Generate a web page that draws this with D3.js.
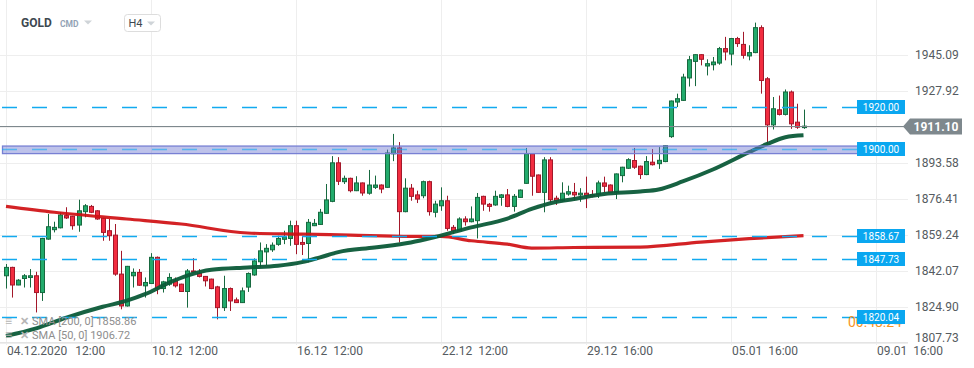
<!DOCTYPE html>
<html>
<head>
<meta charset="utf-8">
<script src="https://cdn.jsdelivr.net/npm/d3@7"></script>
<style>
  body { margin: 0; background: #fff; }
  svg { display: block; font-family: Roboto, "Open Sans", sans-serif; }
</style>
</head>
<body>
<svg id="chart" width="974" height="368"></svg>
<script>
// GOLD H4 candles, 04.12.2020 12:00 onwards (one entry per 4h bar)
const openP = [
  1839.7,1843.7,1835.3,1838.4,1838.9,1839.7,1831.7,1857.2,1861.7,1862.6,
  1868.4,1868.1,1863.9,1870.3,1872.8,1870.7,1867.1,1861.2,1859.1,1840.5,
  1825.3,1839.7,1841.3,1834.9,1836.0,1848.5,1833.6,1835.7,1837.3,1835.7,
  1832.2,1842.0,1840.9,1839.4,1838.1,1834.4,1824.5,1833.6,1828.2,1826.9,
  1834.3,1840.1,1846.4,1851.1,1852.1,1854.7,1857.1,1857.5,1863.6,1855.6,
  1855.1,1863.6,1864.2,1869.5,1875.2,1893.6,1884.6,1886.2,1880.3,1884.0,
  1879.1,1881.9,1883.0,1881.9,1897.9,1900.7,1870.3,1881.5,1878.3,1877.9,
  1884.6,1870.0,1873.1,1875.5,1862.8,1861.2,1866.8,1865.5,1866.0,1877.6,
  1873.8,1873.5,1877.1,1878.3,1872.8,1877.1,1883.8,1897.9,1887.8,1879.5,
  1895.0,1876.7,1875.5,1878.7,1879.5,1878.3,1879.1,1878.4,1878.4,1884.0,
  1883.0,1879.5,1887.5,1891.0,1894.7,1892.0,1888.0,1893.9,1893.2,1894.2,
  1906.1,1922.6,1923.4,1934.1,1942.0,1945.2,1939.8,1940.4,1941.2,1948.1,
  1945.5,1952.9,1950.1,1944.6,1946.2,1958.1,1933.7,1911.7,1918.9,1916.7,
  1927.4,1913.0,1910.4
];
const highP = [
  1845.3,1844.0,1838.1,1840.5,1842.9,1841.6,1857.8,1869.2,1865.5,1870.0,
  1872.4,1868.3,1876.0,1873.9,1873.5,1871.0,1867.4,1866.8,1864.4,1851.6,
  1844.4,1843.2,1842.9,1838.9,1850.5,1848.9,1837.3,1840.9,1838.9,1835.9,
  1842.9,1848.1,1842.9,1839.6,1838.3,1834.9,1839.7,1834.1,1829.3,1834.1,
  1841.3,1848.0,1855.6,1854.8,1855.6,1858.8,1861.2,1866.0,1866.0,1858.8,
  1866.8,1866.8,1871.6,1883.5,1896.8,1896.3,1887.5,1886.5,1887.2,1884.2,
  1890.2,1887.5,1883.3,1899.9,1907.4,1903.5,1886.2,1883.5,1880.3,1885.1,
  1885.1,1875.5,1881.9,1877.9,1863.9,1867.6,1868.1,1872.8,1879.2,1877.9,
  1874.4,1880.3,1878.7,1881.1,1878.7,1880.9,1900.7,1898.1,1888.0,1896.3,
  1896.3,1877.9,1884.3,1882.7,1884.0,1881.5,1887.0,1880.6,1885.1,1887.0,
  1883.3,1888.5,1891.7,1895.8,1900.7,1892.3,1896.8,1900.2,1901.1,1902.1,
  1923.3,1926.6,1936.1,1944.6,1945.4,1945.4,1943.0,1944.1,1948.9,1953.7,
  1953.2,1953.7,1956.1,1949.7,1960.5,1959.2,1934.5,1925.0,1925.7,1928.6,
  1928.1,1921.8,1919.0
];
const lowP = [
  1833.6,1829.3,1835.2,1834.1,1834.1,1822.2,1827.7,1856.9,1860.4,1862.3,
  1866.8,1861.7,1860.7,1867.6,1869.6,1866.4,1856.4,1856.4,1839.7,1823.7,
  1825.0,1834.1,1834.9,1829.3,1835.8,1830.9,1831.7,1834.9,1834.1,1832.0,
  1824.5,1841.3,1838.9,1834.6,1833.3,1818.9,1822.9,1822.9,1826.7,1826.7,
  1832.0,1839.7,1843.7,1844.8,1851.1,1854.0,1854.8,1854.0,1850.0,1849.6,
  1846.1,1863.4,1864.0,1869.3,1874.8,1883.0,1883.5,1879.5,1880.1,1877.9,
  1878.4,1881.1,1879.1,1881.7,1894.4,1855.6,1870.0,1875.5,1874.4,1876.7,
  1868.4,1867.6,1870.7,1861.2,1859.6,1861.0,1863.6,1865.2,1857.5,1870.7,
  1870.3,1873.1,1873.1,1872.4,1870.3,1877.0,1883.6,1877.9,1879.3,1870.0,
  1874.4,1873.5,1875.0,1877.9,1875.5,1875.0,1872.0,1877.1,1876.8,1879.5,
  1879.3,1876.3,1884.3,1890.7,1890.7,1885.9,1887.7,1892.3,1890.7,1893.9,
  1905.5,1920.2,1923.1,1930.0,1930.2,1940.1,1935.3,1937.7,1940.4,1942.5,
  1940.1,1948.9,1943.3,1942.5,1945.9,1926.6,1902.6,1909.5,1916.2,1916.2,
  1909.8,1909.8,1909.8
];
const closeP = [
  1843.7,1835.3,1837.6,1839.7,1839.7,1831.7,1857.5,1863.1,1862.8,1868.7,
  1867.3,1863.6,1870.7,1873.1,1870.0,1866.8,1860.4,1858.8,1840.5,1825.3,
  1844.2,1841.3,1835.2,1836.5,1848.5,1833.6,1836.8,1838.9,1834.9,1832.2,
  1842.0,1841.6,1839.4,1837.3,1833.6,1824.5,1833.6,1827.7,1826.9,1832.5,
  1840.8,1846.8,1851.6,1852.8,1854.3,1857.5,1858.3,1863.6,1854.7,1854.7,
  1865.2,1864.7,1870.0,1875.9,1893.6,1884.8,1886.2,1880.3,1884.0,1879.2,
  1883.0,1883.0,1881.1,1898.3,1900.7,1870.3,1881.5,1877.6,1876.3,1884.6,
  1870.3,1873.9,1875.5,1862.3,1861.2,1866.8,1865.5,1866.8,1877.1,1873.9,
  1872.8,1877.6,1878.3,1872.8,1877.6,1880.6,1897.9,1887.2,1879.5,1895.0,
  1876.0,1875.5,1879.1,1879.8,1878.3,1879.1,1877.9,1877.6,1884.0,1882.4,
  1879.5,1888.3,1891.5,1895.1,1891.5,1888.0,1894.2,1892.7,1894.8,1901.8,
  1923.1,1924.2,1934.5,1942.8,1945.2,1943.0,1940.9,1941.7,1948.1,1946.5,
  1952.9,1950.5,1944.9,1946.2,1958.1,1932.9,1911.7,1919.4,1916.7,1927.4,
  1912.2,1910.6,1911.1
];

// moving averages, read at selected bars
const sma200Bar = [0, 8, 20, 29, 40, 49, 57, 67, 72, 77, 83, 87, 94, 105, 115, 123, 132];
const sma200Val = [1872.8, 1870.0, 1866.8, 1864.4, 1860.1, 1859.6, 1859.1, 1858.5, 1858.5,
                   1856.4, 1854.8, 1852.9, 1853.2, 1853.4, 1855.8, 1857.4, 1858.86];
const sma50Bar = [0, 5, 10, 16, 20, 23, 27, 30, 34, 40, 45, 49, 52, 55, 61, 67, 71, 77, 83,
                  87, 91, 94, 99, 105, 108, 112, 117, 123, 126, 129, 132];
const sma50Val = [1811.0, 1814.6, 1819.7, 1824.9, 1827.8, 1830.9, 1836.4, 1839.8, 1842.6, 1843.7,
                  1844.5, 1846.2, 1848.5, 1851.0, 1853.2, 1855.6, 1858.2, 1862.8, 1867.0, 1871.6,
                  1874.9, 1876.3, 1878.7, 1879.9, 1880.9, 1884.7, 1890.4, 1898.7, 1902.6, 1905.8, 1906.72];

// horizontal levels drawn by the user
const levelPrices = [1920.00, 1900.00, 1858.67, 1847.73, 1820.04];
const zoneRange = [1898.0, 1901.6];
const lastPrice = 1911.10;

// axes
const priceTicks = [1807.73, 1824.90, 1842.07, 1859.24, 1876.41, 1893.58, 1910.75, 1927.92, 1945.09];
const timeTickBar = [0, 24, 48, 72, 96, 120, 144];
const timeTickDate = ["04.12.2020", "10.12", "16.12", "22.12", "29.12", "05.01", "09.01"];
const timeTickHour = ["12:00", "12:00", "12:00", "12:00", "16:00", "16:00", "16:00"];

const COLOR_UP = "#22ab6c";
const COLOR_UP_EDGE = "#17693f";
const COLOR_DOWN = "#f22d40";
const COLOR_DOWN_EDGE = "#a3182a";
const COLOR_LEVEL = "#12aaf0";
const COLOR_GRID = "#eeeeee";
const COLOR_TEXT = "#555b60";

const svg = d3.select("#chart");
const x = d3.scaleLinear().domain([0, 144]).range([6, 876]);
const y = d3.scaleLinear().domain([1808.1, 1961.75]).range([342, 20]);
const px = (v) => Math.round(v) + 0.5;

// grid
const gridG = svg.append("g");
gridG.selectAll("line.h").data(priceTicks).join("line")
  .attr("x1", 0).attr("x2", 908)
  .attr("y1", (d) => px(y(d))).attr("y2", (d) => px(y(d)))
  .attr("stroke", COLOR_GRID);
gridG.selectAll("line.v").data(timeTickBar).join("line")
  .attr("x1", (d) => px(x(d))).attr("x2", (d) => px(x(d)))
  .attr("y1", 0).attr("y2", 345)
  .attr("stroke", COLOR_GRID);
gridG.append("line")
  .attr("x1", 0).attr("x2", 908).attr("y1", 342.5).attr("y2", 342.5)
  .attr("stroke", "#e4e4e4");

// price axis labels
const yAxis = d3.axisRight(y).tickValues(priceTicks).tickSize(0).tickPadding(0)
  .tickFormat(d3.format(".2f"));
const yAxisG = svg.append("g").attr("transform", "translate(915,0)").call(yAxis);
yAxisG.select(".domain").remove();
yAxisG.selectAll("text")
  .attr("fill", COLOR_TEXT).attr("font-size", 12).attr("font-family", "Roboto")
  .attr("dy", (d) => y(d) > 336 ? "-0.1em" : "0.32em");

// time axis labels
const xLabelG = svg.append("g");
xLabelG.selectAll("text").data(timeTickBar).join("text")
  .attr("x", (d) => x(d) + 1).attr("y", 355)
  .attr("fill", COLOR_TEXT).attr("font-size", 12)
  .each(function(d, i) {
    const t = d3.select(this);
    t.append("tspan").text(timeTickDate[i]);
    t.append("tspan").attr("dx", i === 0 ? 8 : 6).text(timeTickHour[i]);
  });

// candles
const candleG = svg.append("g");
const bars = d3.range(openP.length);
const up = (i) => closeP[i] >= openP[i];
candleG.selectAll("line").data(bars).join("line")
  .attr("x1", (i) => px(x(i))).attr("x2", (i) => px(x(i)))
  .attr("y1", (i) => y(highP[i])).attr("y2", (i) => y(lowP[i]))
  .attr("stroke", (i) => up(i) ? COLOR_UP_EDGE : COLOR_DOWN_EDGE)
  .attr("stroke-width", 1);
candleG.selectAll("rect").data(bars).join("rect")
  .attr("x", (i) => Math.round(x(i)) - 1.5)
  .attr("width", 4)
  .attr("y", (i) => y(Math.max(openP[i], closeP[i])))
  .attr("height", (i) => Math.max(1, Math.abs(y(openP[i]) - y(closeP[i]))))
  .attr("fill", (i) => up(i) ? COLOR_UP : COLOR_DOWN)
  .attr("stroke", (i) => up(i) ? COLOR_UP_EDGE : COLOR_DOWN_EDGE)
  .attr("stroke-width", 1);

// moving averages
const line = d3.line().curve(d3.curveMonotoneX);
svg.append("path")
  .attr("d", line(sma200Bar.map((b, i) => [x(b), y(sma200Val[i])])))
  .attr("fill", "none").attr("stroke", "#cf0f12").attr("stroke-width", 3.2)
  .attr("stroke-opacity", 0.92);
svg.append("path")
  .attr("d", line(sma50Bar.map((b, i) => [x(b), y(sma50Val[i])])))
  .attr("fill", "none").attr("stroke", "#0b5a38").attr("stroke-width", 4)
  .attr("stroke-opacity", 0.95);

// support/resistance zone
svg.append("rect")
  .attr("x", 2.5).attr("width", 857)
  .attr("y", y(zoneRange[1])).attr("height", y(zoneRange[0]) - y(zoneRange[1]))
  .attr("fill", "#6f78d0").attr("fill-opacity", 0.45)
  .attr("stroke", "#7880d4").attr("stroke-width", 1.3);

// dashed levels
svg.append("g").selectAll("line").data(levelPrices).join("line")
  .attr("x1", 2).attr("x2", 857)
  .attr("y1", (d) => px(y(d))).attr("y2", (d) => px(y(d)))
  .attr("stroke", COLOR_LEVEL).attr("stroke-width", 1.3)
  .attr("stroke-opacity", (d) => d === 1900 ? 0.6 : 1)
  .attr("stroke-dasharray", "15,15");

// last price line
svg.append("line")
  .attr("x1", 0).attr("x2", 904)
  .attr("y1", px(y(lastPrice))).attr("y2", px(y(lastPrice)))
  .attr("stroke", "#7e888d").attr("stroke-width", 1);

// countdown text partly hidden by the lowest tag
svg.append("text")
  .attr("x", 848).attr("y", y(1820.04) + 10.5)
  .attr("fill", "#f7941d").attr("font-size", 14)
  .text("00:48:24");

// level tags
const tagG = svg.append("g").selectAll("g").data(levelPrices).join("g")
  .attr("transform", (d) => "translate(857," + Math.round(y(d)) + ")");
tagG.append("rect")
  .attr("x", 0).attr("y", -7).attr("width", 48).attr("height", 14)
  .attr("fill", "#0aa7f0");
tagG.append("text")
  .attr("x", 24).attr("y", 0).attr("dy", "0.35em")
  .attr("text-anchor", "middle").attr("fill", "#fff").attr("font-size", 10)
  .text((d) => d3.format(".2f")(d));

// last price tag
const ly = Math.round(y(lastPrice)) + 0.5;
svg.append("path")
  .attr("d", "M903," + ly + "L910," + (ly - 8) + "L962," + (ly - 8) + "L962," + (ly + 8) + "L910," + (ly + 8) + "Z")
  .attr("fill", "#7e888d");
svg.append("text")
  .attr("x", 936).attr("y", ly).attr("dy", "0.36em")
  .attr("text-anchor", "middle").attr("fill", "#fff")
  .attr("font-size", 12).attr("font-weight", "bold")
  .text(d3.format(".2f")(lastPrice));

// header
const head = svg.append("g");
head.append("rect").attr("x", 124.5).attr("y", 14.5).attr("width", 36).attr("height", 17)
  .attr("rx", 3).attr("fill", "#fff").attr("stroke", "#dddddd");
head.append("text").attr("x", 21).attr("y", 27)
  .attr("font-size", 12).attr("font-weight", "bold").attr("fill", "#3e4850").text("GOLD");
head.append("text").attr("x", 60).attr("y", 27)
  .attr("font-size", 8.5).attr("font-weight", "bold").attr("fill", "#93a3b5").text("CMD");
head.append("path").attr("d", "M84,20.5L92,20.5L88,24.5Z").attr("fill", "#cfd4d8");
head.append("text").attr("x", 128.5).attr("y", 27)
  .attr("font-size", 11).attr("fill", "#3e4850").text("H4");
head.append("path").attr("d", "M147,21.5L155,21.5L151,25.5Z").attr("fill", "#cfd4d8");

// indicator legend
const legend = svg.append("g").attr("fill", "#8e8e8e").attr("font-size", 11);
const legendRows = ["SMA [200, 0] 1858.86", "SMA [50, 0] 1906.72"];
legendRows.forEach((t, i) => {
  const ly2 = 325 + i * 13.5;
  legend.append("text").attr("x", 5).attr("y", ly2).attr("fill", "#b5b5b5")
    .attr("font-size", 12).text("\u2261");
  legend.append("text").attr("x", 20).attr("y", ly2).attr("fill", "#b5b5b5")
    .attr("font-size", 11).attr("font-weight", "bold").text("\u2715");
  legend.append("text").attr("x", 32).attr("y", ly2).text(t);
});
</script>
</body>
</html>
